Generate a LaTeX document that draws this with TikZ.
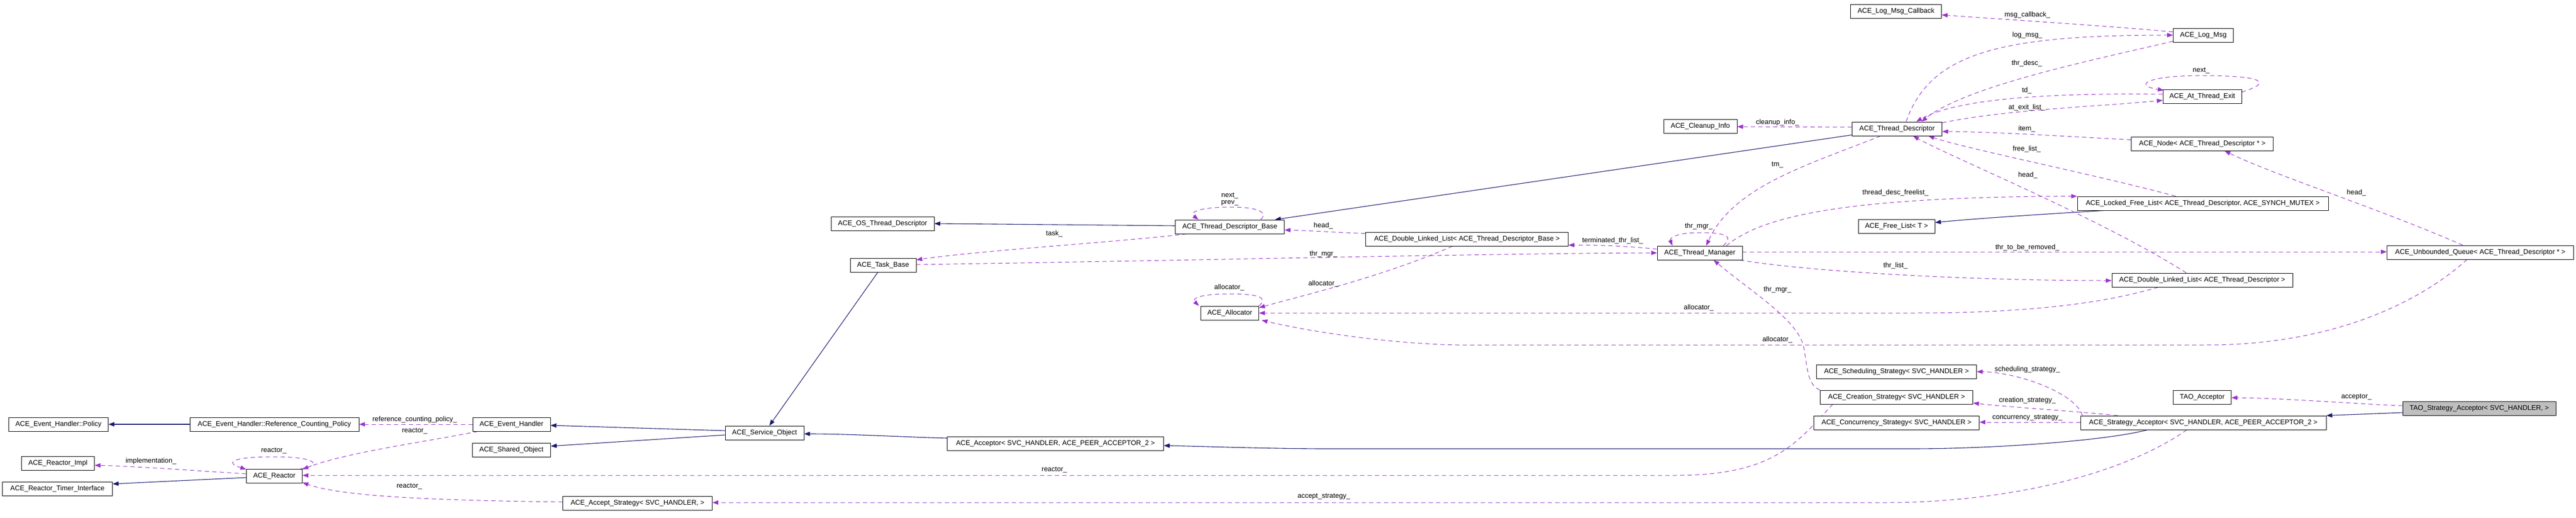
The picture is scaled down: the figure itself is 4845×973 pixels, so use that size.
\documentclass[tikz,border=0pt]{standalone}
\usepackage{fontspec}
\setmainfont{Liberation Sans}
\usetikzlibrary{arrows.meta,calc}
\definecolor{purp}{HTML}{9A32CD}
\definecolor{navyc}{HTML}{191970}
\definecolor{greyfill}{HTML}{BFBFBF}
\pgfdeclarelayer{bg}
\pgfsetlayers{bg,main}
\begin{document}
\begin{tikzpicture}[x=1pt,y=-1pt]
\tikzset{
  box/.style={draw=black, line width=0.9pt, fill=white, minimum height=26pt, inner sep=0pt, font=\fontsize{13}{15}\selectfont},
  inh/.style={draw=navyc, line width=1.1pt, -{Triangle[length=11pt,width=8pt]}},
  use/.style={draw=purp, line width=1pt, dash pattern=on 8pt off 6pt, -{Triangle[length=11pt,width=8pt]}},
  lab/.style={inner sep=0pt, font=\fontsize{13}{15}\selectfont, text=black},
}
\begin{pgfonlayer}{bg}
\fill[white] (0,0) rectangle (4845,973);
\end{pgfonlayer}
\useasboundingbox (0,0) rectangle (4845,973);

% ---------- nodes ----------
\node[box, minimum width=171pt] (logcb) at (3566,21) {ACE\_Log\_Msg\_Callback};
\node[box, minimum width=113pt] (logmsg) at (4144,66) {ACE\_Log\_Msg};
\node[box, minimum width=148pt] (atexit) at (4142,181) {ACE\_At\_Thread\_Exit};
\node[box, minimum width=169pt] (td) at (3568,242) {ACE\_Thread\_Descriptor};
\node[box, minimum width=138pt] (cleanup) at (3198,237) {ACE\_Cleanup\_Info};
\node[box, minimum width=267pt] (node) at (4142,270) {ACE\_Node< ACE\_Thread\_Descriptor * >};
\node[box, minimum width=472pt] (lfl) at (4143,382) {ACE\_Locked\_Free\_List< ACE\_Thread\_Descriptor, ACE\_SYNCH\_MUTEX >};
\node[box, minimum width=144pt] (freelist) at (3567,425) {ACE\_Free\_List< T >};
\node[box, minimum width=351pt] (uq) at (4665,474) {ACE\_Unbounded\_Queue< ACE\_Thread\_Descriptor * >};
\node[box, minimum width=340pt] (dlltd) at (4142,526) {ACE\_Double\_Linked\_List< ACE\_Thread\_Descriptor >};
\node[box, minimum width=381pt] (dlltdb) at (2759,449) {ACE\_Double\_Linked\_List< ACE\_Thread\_Descriptor\_Base >};
\node[box, minimum width=160pt] (tm) at (3197,475) {ACE\_Thread\_Manager};
\node[box, minimum width=194pt] (ostd) at (1660,420) {ACE\_OS\_Thread\_Descriptor};
\node[box, minimum width=205pt] (tdb) at (2313,426) {ACE\_Thread\_Descriptor\_Base};
\node[box, minimum width=124pt] (task) at (1661,498) {ACE\_Task\_Base};
\node[box, minimum width=109pt] (alloc) at (2313,588) {ACE\_Allocator};
\node[box, minimum width=301pt] (sched) at (3567,698) {ACE\_Scheduling\_Strategy< SVC\_HANDLER >};
\node[box, minimum width=287pt] (creat) at (3567,746) {ACE\_Creation\_Strategy< SVC\_HANDLER >};
\node[box, minimum width=311pt] (conc) at (3567,794) {ACE\_Concurrency\_Strategy< SVC\_HANDLER >};
\node[box, minimum width=109pt] (taoacc) at (4142,746) {TAO\_Acceptor};
\node[box, minimum width=462pt] (sacc) at (4144,794) {ACE\_Strategy\_Acceptor< SVC\_HANDLER, ACE\_PEER\_ACCEPTOR\_2 >};
\node[box, minimum width=288pt, fill=greyfill] (tsa) at (4663,767) {TAO\_Strategy\_Acceptor< SVC\_HANDLER, >};
\node[box, minimum width=407pt] (acc) at (1985,833) {ACE\_Acceptor< SVC\_HANDLER, ACE\_PEER\_ACCEPTOR\_2 >};
\node[box, minimum width=148pt] (so) at (1438,813) {ACE\_Service\_Object};
\node[box, minimum width=146pt] (eh) at (962,797) {ACE\_Event\_Handler};
\node[box, minimum width=147pt] (sho) at (962,845) {ACE\_Shared\_Object};
\node[box, minimum width=281pt] (acst) at (1199,945) {ACE\_Accept\_Strategy< SVC\_HANDLER, >};
\node[box, minimum width=187pt] (policy) at (110,797) {ACE\_Event\_Handler::Policy};
\node[box, minimum width=318pt] (rcp) at (516,797) {ACE\_Event\_Handler::Reference\_Counting\_Policy};
\node[box, minimum width=137pt] (rimpl) at (109,870) {ACE\_Reactor\_Impl};
\node[box, minimum width=105pt] (reactor) at (516,894) {ACE\_Reactor};
\node[box, minimum width=207pt] (rti) at (108,918) {ACE\_Reactor\_Timer\_Interface};

% ---------- edges ----------
\begin{pgfonlayer}{bg}
% inheritance
\draw[inh] ($(td.south west)+(0,-2)$) -- ($(tdb.north east)+(-18,0)$);
\draw[inh] ($(tdb.west)+(0,-2)$) -- (ostd.east);
\draw[inh] ($(lfl.south west)+(50,0)$) .. controls (3850,402) and (3720,410) .. ($(freelist.east)+(0,-7)$);
\draw[inh] ($(task.south)+(-10,0)$) -- ($(so.north)+(9,0)$);
\draw[inh] ($(acc.west)+(0,-10)$) .. controls (1700,821) and (1600,815) .. ($(so.east)+(0,2)$);
\draw[inh] ($(so.west)+(0,-4)$) -- ($(eh.east)+(0,2)$);
\draw[inh] ($(so.west)+(0,4)$) -- ($(sho.east)+(0,-7)$);
\draw[inh] ($(sacc.south)+(-105,0)$) .. controls (3960,828) and (3750,843) .. (3595,843) -- (2480,843) .. controls (2350,842) and (2250,838) .. ($(acc.east)+(0,4)$);
\draw[inh] ($(tsa.west)+(0,8)$) -- (sacc.north east);
\draw[inh] ($(reactor.west)+(0,3)$) -- ($(rti.east)+(0,-9)$);
\draw[inh] (rcp.west) -- (policy.east);

% usage
\draw[use] ($(logmsg.west)+(0,-6)$) .. controls (3960,48) and (3760,36) .. ($(logcb.east)+(0,7)$);
\draw[use] ($(td.north)+(17,0)$) .. controls (3630,100) and (3760,66) .. (logmsg.west);
\draw[use] ($(logmsg.south west)+(0,-2)$) .. controls (3950,110) and (3700,160) .. ($(td.north)+(46,0)$);
\draw[use] ($(atexit.east)+(0,-8)$) .. controls (4290,150) and (4230,142) .. (4140,142) .. controls (4040,142) and (4010,160) .. ($(atexit.north west)+(2,2)$);
\draw[use] ($(atexit.west)+(0,-4)$) .. controls (3900,175) and (3690,180) .. ($(td.north)+(36,0)$);
\draw[use] ($(td.north east)+(0,2)$) .. controls (3780,205) and (3950,200) .. ($(atexit.south west)+(0,-6)$);
\draw[use] ($(td.west)+(0,-3)$) -- ($(cleanup.east)+(0,1)$);
\draw[use] ($(node.north west)+(0,6)$) .. controls (3880,256) and (3760,248) .. ($(td.east)+(0,5)$);
\draw[use] ($(lfl.north)+(-51,0)$) .. controls (3950,330) and (3700,280) .. ($(td.south east)+(-26,0)$);
\draw[use] ($(dlltd.north)+(-30,0)$) .. controls (3950,410) and (3680,300) .. ($(td.south)+(30,0)$);
\draw[use] ($(td.south west)+(54,0)$) .. controls (3400,310) and (3260,350) .. ($(tm.north)+(12,0)$);
\draw[use] ($(uq.north)+(-33,0)$) .. controls (4470,390) and (4280,330) .. ($(node.south)+(42,0)$);
\draw[use] ($(tdb.north east)+(-45,0)$) .. controls (2385,400) and (2370,389) .. (2314,389) .. controls (2260,389) and (2235,398) .. ($(tdb.north west)+(44,0)$);
\draw[use] ($(tdb.south west)+(22,0)$) .. controls (2100,455) and (1850,470) .. ($(task.east)+(0,-10)$);
\draw[use] ($(task.east)+(0,-1)$) .. controls (2200,490) and (2800,476) .. (tm.west);
\draw[use] ($(dlltdb.north west)+(0,3)$) .. controls (2520,437) and (2460,433) .. ($(tdb.east)+(0,6)$);
\draw[use] ($(tm.west)+(0,-7)$) .. controls (3060,462) and (3000,460) .. ($(dlltdb.south east)+(0,-2)$);
\draw[use] ($(dlltdb.south west)+(164,0)$) .. controls (2600,520) and (2450,555) .. ($(alloc.east)+(0,-10)$);
\draw[use] (alloc.north east) .. controls (2385,560) and (2370,552) .. (2314,552) .. controls (2260,552) and (2240,560) .. ($(alloc.north west)+(-3,0)$);
\draw[use] ($(dlltd.south west)+(88,0)$) .. controls (3950,572) and (3800,588) .. (3600,588) -- (alloc.east);
\draw[use] ($(uq.south)+(-25,0)$) .. controls (4560,560) and (4400,648) .. (4150,648) -- (2740,648) .. controls (2600,645) and (2450,620) .. ($(alloc.south east)+(5,0)$);
\draw[use] ($(tm.north)+(44,0)$) .. controls (3260,445) and (3250,437) .. (3197,437) .. controls (3150,437) and (3140,448) .. ($(tm.north west)+(29,0)$);
\draw[use] ($(tm.north)+(50,0)$) .. controls (3320,400) and (3500,370) .. (lfl.north west);
\draw[use] ($(tm.east)+(0,-2)$) -- ($(uq.west)+(0,-1)$);
\draw[use] ($(tm.south east)+(-5,0)$) .. controls (3400,510) and (3700,527) .. ($(dlltd.west)+(0,1)$);
\draw[use] (creat.north west) .. controls (3398,722) and (3400,690) .. (3392,650) .. controls (3380,600) and (3290,545) .. ($(tm.south)+(26,0)$);
\draw[use] ($(creat.south west)+(24,0)$) .. controls (3380,830) and (3340,893) .. (3150,893) -- ($(reactor.east)+(0,-1)$);
\draw[use] ($(sacc.south)+(-31,0)$) .. controls (3980,900) and (3750,944) .. (3550,944) -- ($(acst.east)+(0,-1)$);
\draw[use] ($(sacc.north west)+(4,0)$) .. controls (3905,740) and (3800,700) .. (sched.east);
\draw[use] ($(sacc.north)+(-161,0)$) .. controls (3900,772) and (3780,765) .. ($(creat.east)+(0,11)$);
\draw[use] ($(sacc.west)+(0,-1)$) -- ($(conc.east)+(0,-1)$);
\draw[use] ($(tsa.west)+(0,-5)$) .. controls (4450,760) and (4300,748) .. ($(taoacc.east)+(0,1)$);
\draw[use] (eh.west) -- (rcp.east);
\draw[use] ($(eh.south west)+(10,0)$) .. controls (800,830) and (650,850) .. ($(reactor.north east)+(0,1)$);
\draw[use] ($(reactor.west)+(0,-4)$) .. controls (380,885) and (260,876) .. ($(rimpl.east)+(0,4)$);
\draw[use] ($(reactor.north east)+(-4,0)$) .. controls (605,875) and (600,858) .. (515,858) .. controls (440,858) and (420,868) .. ($(reactor.north west)+(0,1)$);
\draw[use] ($(acst.west)+(0,-2)$) .. controls (850,940) and (650,935) .. ($(reactor.south east)+(0,-1)$);
\end{pgfonlayer}

% ---------- edge labels ----------
\node[lab] (l1) at (3813,28) {msg\_callback\_};
\node[lab] (l2) at (3813,66) {log\_msg\_};
\node[lab] (l3) at (3812,119) {thr\_desc\_};
\node[lab] (l4) at (4140,133) {next\_};
\node[lab] (l5) at (3812,170) {td\_};
\node[lab] (l6) at (3812,202) {at\_exit\_list\_};
\node[lab] (l7) at (3343,230) {cleanup\_info\_};
\node[lab] (l8) at (3812,242) {item\_};
\node[lab] (l9) at (3812,280) {free\_list\_};
\node[lab] (l10) at (3814,329) {head\_};
\node[lab] (l11) at (3343,310) {tm\_};
\node[lab] (l12) at (4432,362) {head\_};
\node[lab] (l13) at (3565,362) {thread\_desc\_freelist\_};
\node[lab] (l14) at (2313,368) {next\_};
\node[lab] (l15) at (2313,381) {prev\_};
\node[lab] (l16) at (1983,439) {task\_};
\node[lab] (l17) at (2489,424) {head\_};
\node[lab] (l18) at (3033,452) {terminated\_thr\_list\_};
\node[lab] (l19) at (3195,425) {thr\_mgr\_};
\node[lab] (l20) at (2489,477) {thr\_mgr\_};
\node[lab] (l21) at (3813,465) {thr\_to\_be\_removed\_};
\node[lab] (l22) at (3565,499) {thr\_list\_};
\node[lab] (l23) at (2312,540) {allocator\_};
\node[lab] (l24) at (2489,533) {allocator\_};
\node[lab] (l25) at (3195,578) {allocator\_};
\node[lab] (l26) at (3343,638) {allocator\_};
\node[lab] (l27) at (3343,544) {thr\_mgr\_};
\node[lab] (l28) at (3813,694) {scheduling\_strategy\_};
\node[lab] (l29) at (3813,752) {creation\_strategy\_};
\node[lab] (l30) at (3813,785) {concurrency\_strategy\_};
\node[lab] (l31) at (4432,746) {acceptor\_};
\node[lab] (l32) at (1983,883) {reactor\_};
\node[lab] (l33) at (2490,933) {accept\_strategy\_};
\node[lab] (l34) at (780,788) {reference\_counting\_policy\_};
\node[lab] (l35) at (780,810) {reactor\_};
\node[lab] (l36) at (515,847) {reactor\_};
\node[lab] (l37) at (284,866) {implementation\_};
\node[lab] (l38) at (770,914) {reactor\_};
\end{tikzpicture}
\end{document}
